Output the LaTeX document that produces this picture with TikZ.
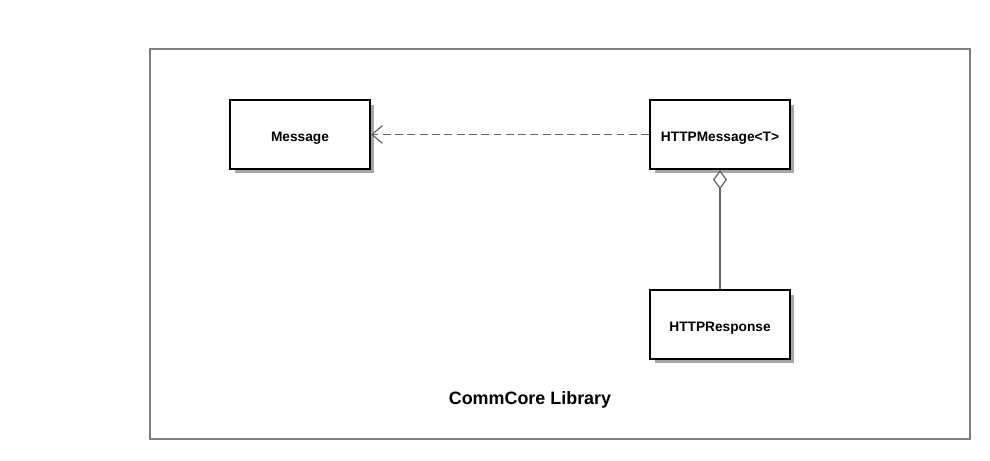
\documentclass[tikz,border=0pt]{standalone}
\usepackage{fontspec}
\setmainfont{Liberation Sans}
\usetikzlibrary{arrows.meta,shadows,positioning}
\tikzset{classbox/.style = {rectangle, draw=black, line width=1.1pt, fill=white,
    minimum width=2.8cm, minimum height=1.38cm, font=\bfseries\fontsize{7.8}{9}\selectfont,
    text height=1.5ex, text depth=0.1ex,
    drop shadow={shadow xshift=0.09cm, shadow yshift=-0.09cm, fill=black!35, opacity=1}},
  libframe/.style = {draw=black!50, line width=1.1pt},
  depends/.style = {draw=black!60, dash pattern=on 4.5pt off 2.5pt, line width=0.7pt,
    -{Straight Barb[length=6pt,width=10pt]}},
  aggregates/.style = {draw=black!60, line width=0.7pt, {Diamond[open,length=11pt,width=8pt]}-}}

\begin{document}
\begin{tikzpicture}[x=0.02cm, y=-0.02cm]
  \useasboundingbox (0,0) rectangle (990,460);
  \draw[libframe] (150,49) rectangle (970,439);

  \node[classbox] (message) at (300,134.5) {Message};
  \node[classbox] (httpMessage) at (720,134.5) {HTTPMessage<T>};
  \node[classbox] (httpResponse) at (720,324.5) {HTTPResponse};

  \node (libName) at (530,400) {\bfseries\fontsize{10.2}{12}\selectfont CommCore Library};

  \draw[depends] (httpMessage) -- (message);
  \draw[aggregates] (httpMessage) -- (httpResponse);
\end{tikzpicture}
\end{document}
